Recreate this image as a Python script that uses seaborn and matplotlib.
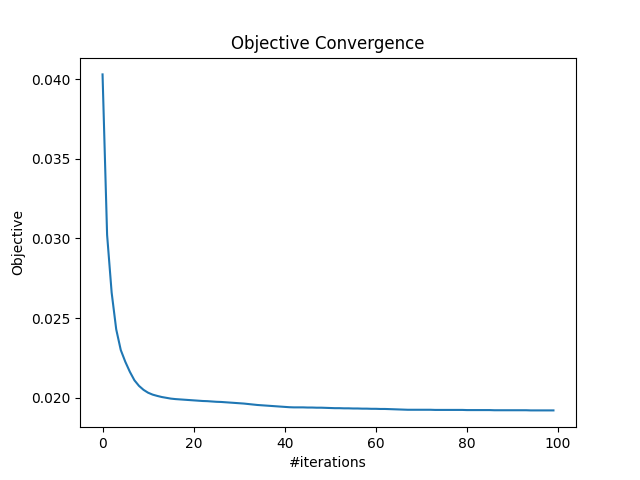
import matplotlib
matplotlib.use("Agg")
import matplotlib.pyplot as plt
import seaborn as sns

iterations = list(range(100))
objective = [
    0.04030, 0.03023, 0.02660, 0.02430, 0.02300, 0.02226, 0.02163, 0.02110, 0.02075, 0.02050,
    0.02032, 0.02020, 0.02012, 0.02005, 0.02000, 0.01995, 0.01992, 0.01990, 0.01988, 0.01986,
    0.01984, 0.01982, 0.01980, 0.01979, 0.01977, 0.01975, 0.01974, 0.01972, 0.01970, 0.01968,
    0.01966, 0.01964, 0.01961, 0.01958, 0.01955, 0.01953, 0.01951, 0.01949, 0.01947, 0.01945,
    0.01943, 0.01941, 0.01940, 0.01940, 0.01940, 0.01939, 0.01939, 0.01938, 0.01938, 0.01937,
    0.01936, 0.01935, 0.01935, 0.01934, 0.01934, 0.01933, 0.01933, 0.01932, 0.01932, 0.01931,
    0.01931, 0.01930, 0.01930, 0.01929, 0.01928, 0.01927, 0.01926, 0.01925, 0.01925, 0.01925,
    0.01925, 0.01925, 0.01925, 0.01924, 0.01924, 0.01924, 0.01924, 0.01924, 0.01924, 0.01924,
    0.01923, 0.01923, 0.01923, 0.01923, 0.01923, 0.01923, 0.01922, 0.01922, 0.01922, 0.01922,
    0.01922, 0.01922, 0.01922, 0.01922, 0.01921, 0.01921, 0.01921, 0.01921, 0.01921, 0.01921,
]

fig, ax = plt.subplots(figsize=(6.4, 4.8), dpi=100)
sns.lineplot(x=iterations, y=objective, ax=ax, color="#1f77b4")
ax.set_title("Objective Convergence")
ax.set_xlabel("#iterations")
ax.set_ylabel("Objective")
fig.savefig("out.png")
